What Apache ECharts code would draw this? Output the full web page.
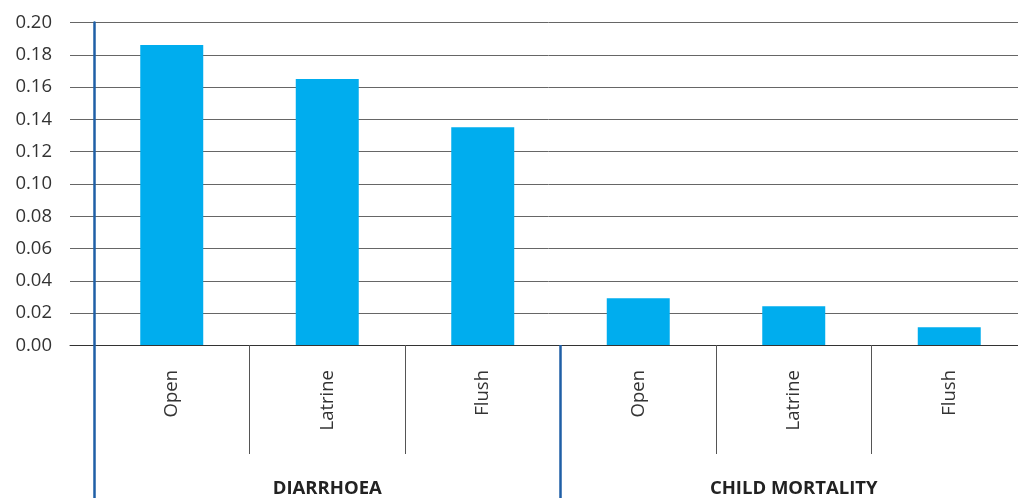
<!DOCTYPE html>
<html>
<head>
<meta charset="utf-8">
<script src="https://cdn.jsdelivr.net/npm/echarts@6/dist/echarts.min.js"></script>
<style>
html,body{margin:0;padding:0;background:#fff;overflow:hidden;width:1018px;height:498px;}
#chart{width:1027px;height:498px;}
</style>
</head>
<body>
<div id="chart"></div>
<script>
const categories = ['Open', 'Latrine', 'Flush', 'Open', 'Latrine', 'Flush'];
const groups = ['DIARRHOEA', 'CHILD MORTALITY'];
const values = [0.186, 0.165, 0.135, 0.029, 0.024, 0.011];
const yTicks = { min: 0, max: 0.2, interval: 0.02 };

const FONT = '"Open Sans", "Noto Sans", sans-serif';
const chart = echarts.init(document.getElementById('chart'), null, { renderer: 'canvas' });

const gridTop = 22.5, gridHeight = 323;

chart.setOption({
  animation: false,
  backgroundColor: '#ffffff',
  grid: [
    { left: 70, right: 0, top: gridTop, height: gridHeight },
    { left: 94, right: 0, top: gridTop, height: gridHeight }
  ],
  xAxis: [
    {
      gridIndex: 0, type: 'value', min: 0, max: 1,
      axisLine: { show: true, lineStyle: { color: '#333', width: 1 } },
      axisTick: { show: false }, axisLabel: { show: false }, splitLine: { show: false }
    },
    {
      gridIndex: 1, type: 'category', data: categories, position: 'bottom',
      boundaryGap: true,
      axisLine: { show: true, lineStyle: { color: '#333', width: 1 } },
      axisTick: { show: true, length: 109, lineStyle: { color: '#555', width: 1 } },
      axisLabel: {
        rotate: 90, margin: 25, fontFamily: FONT, fontSize: 18.5, color: '#333'
      },
      splitLine: { show: false }
    },
    {
      gridIndex: 1, type: 'category', data: groups, position: 'bottom',
      boundaryGap: true,
      axisLine: { show: false },
      axisTick: { show: true, length: 153, lineStyle: { color: '#1f5fa6', width: 2.5 } },
      axisLabel: {
        margin: 134, fontFamily: FONT, fontSize: 18.5, fontWeight: 'bold', color: '#222',
        verticalAlign: 'top'
      },
      splitLine: { show: false }
    }
  ],
  yAxis: [
    {
      gridIndex: 0, type: 'value', min: yTicks.min, max: yTicks.max, interval: yTicks.interval,
      axisLine: { show: false }, axisTick: { show: false },
      axisLabel: {
        margin: 18, fontFamily: FONT, fontSize: 18.5, color: '#333',
        formatter: v => v.toFixed(2)
      },
      splitLine: { show: true, lineStyle: { color: '#666', width: 1 } }
    },
    {
      gridIndex: 1, type: 'value', min: yTicks.min, max: yTicks.max, interval: yTicks.interval,
      axisLine: { show: true, lineStyle: { color: '#1f5fa6', width: 2.5 } },
      axisTick: { show: false }, axisLabel: { show: false }, splitLine: { show: false }
    }
  ],
  series: [
    {
      type: 'bar', xAxisIndex: 1, yAxisIndex: 1, data: values,
      barWidth: '40.5%',
      itemStyle: { color: '#00adee' }
    }
  ]
});
</script>
</body>
</html>
